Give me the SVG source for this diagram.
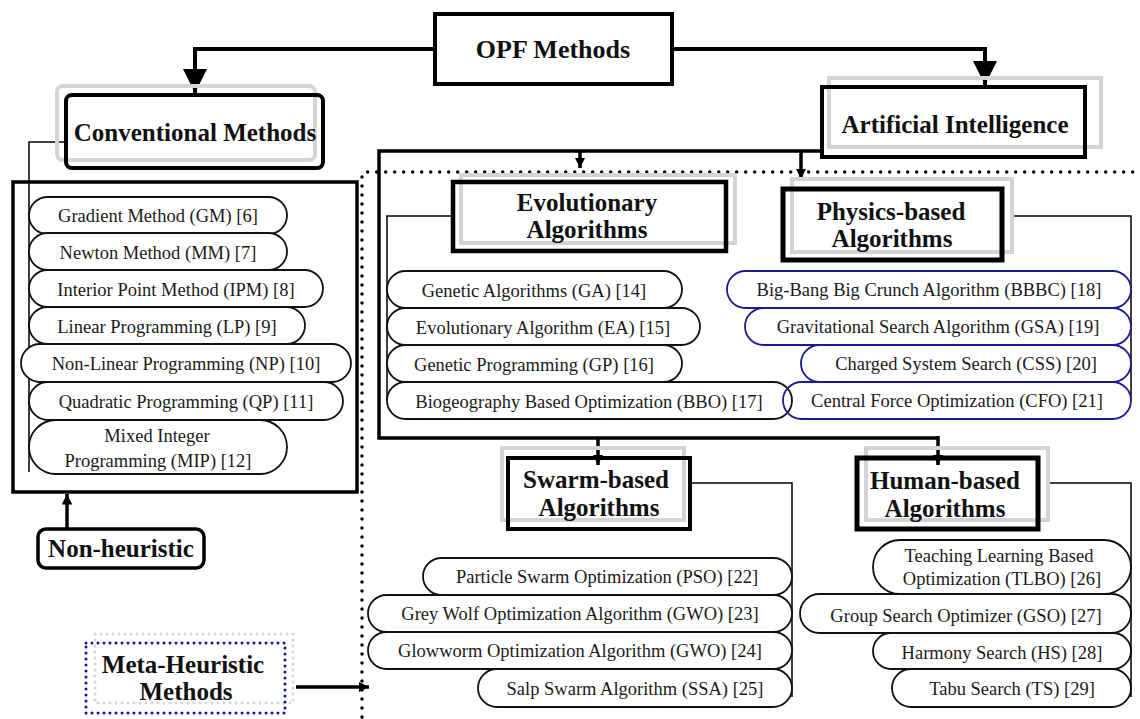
<svg xmlns="http://www.w3.org/2000/svg" width="1140" height="719" viewBox="0 0 1140 719">
<style>
.bg{fill:#fff}
.hd{font-family:"Liberation Serif","Times New Roman",serif;font-weight:bold;font-size:25px;fill:#111;text-anchor:middle}
.tx{font-family:"Liberation Serif","Times New Roman",serif;font-size:18.5px;fill:#1a1a1a;text-anchor:middle}
.box{fill:none;stroke:#000;stroke-width:4.5}
.sh{fill:none;stroke:#d4d4d4;stroke-width:4}
.pill{fill:#fff;stroke:#111;stroke-width:1.8}
.bpill{fill:#fff;stroke:#1c1c8f;stroke-width:1.8}
.thick{fill:none;stroke:#000;stroke-width:4}
.mid{fill:none;stroke:#000;stroke-width:3.5}
.thin{fill:none;stroke:#000;stroke-width:1.5}
.dots{fill:none;stroke:#000;stroke-width:3.5;stroke-linecap:round;stroke-dasharray:0 9}
</style>
<defs>
<marker id="big" viewBox="0 0 10 10" refX="10" refY="5" markerWidth="6" markerHeight="6" markerUnits="strokeWidth" orient="auto"><path d="M0,0 L10,5 L0,10 z" fill="#000"/></marker>
<marker id="sm" viewBox="0 0 10 10" refX="10" refY="5" markerWidth="3" markerHeight="3" markerUnits="strokeWidth" orient="auto"><path d="M0,0 L10,5 L0,10 z" fill="#000"/></marker>
</defs>
<rect class="bg" x="0" y="0" width="1140" height="719"/>

<g id="meta-region">
<path class="dots" d="M362,717 V176 Q362,172 366,172 H1140"/>
</g>

<g id="connectors">
<path class="thick" d="M435,49 H195 V93" marker-end="url(#big)"/>
<path class="thick" d="M672,49 H985 V85" marker-end="url(#big)"/>
<path class="thin" d="M66,142 H29 V472"/>
<path class="mid" d="M67,529 V494" marker-end="url(#sm)"/>
<path class="mid" d="M296,687 H369" marker-end="url(#sm)"/>
<path class="mid" d="M822,151 H379 V438 H938"/>
<path class="mid" d="M580,151 V168" marker-end="url(#sm)"/>
<path class="mid" d="M801,151 V179" marker-end="url(#sm)"/>
<path class="mid" d="M598,438 V465" marker-end="url(#sm)"/>
<path class="mid" d="M938,436 V465" marker-end="url(#sm)"/>
<path class="thin" d="M453,216 H387 V400"/>
<path class="thin" d="M1012,216 H1131 V400"/>
<path class="thin" d="M690,483 H792 V697"/>
<path class="thin" d="M1048,483 H1131 V697"/>
</g>

<g id="opf">
<rect class="box" x="435" y="14" width="237" height="70" style="stroke-width:4"/>
<text class="hd" x="553" y="58" style="font-size:26px">OPF Methods</text>
</g>

<g id="conventional">
<rect class="sh" x="57" y="86" width="258" height="74" rx="6"/>
<rect class="box" x="66" y="95" width="257" height="73" rx="6" style="stroke-width:4"/>
<text class="hd" x="195" y="141">Conventional Methods</text>
</g>

<g id="ai">
<rect class="sh" x="829" y="78" width="272" height="69"/>
<rect class="box" x="822" y="87" width="263" height="70" style="stroke-width:4"/>
<text class="hd" x="955" y="133">Artificial Intelligence</text>
</g>

<g id="nonheuristic-list">
<rect class="mid" x="13" y="182" width="344" height="310"/>
<rect class="pill" x="29" y="197" width="258" height="37" rx="18.5"/>
<text class="tx" x="158" y="222">Gradient Method (GM) [6]</text>
<rect class="pill" x="29" y="233" width="258" height="37" rx="18.5"/>
<text class="tx" x="158" y="259">Newton Method (MM) [7]</text>
<rect class="pill" x="29" y="270" width="294" height="37" rx="18.5"/>
<text class="tx" x="176" y="296">Interior Point Method (IPM) [8]</text>
<rect class="pill" x="29" y="307" width="276" height="37" rx="18.5"/>
<text class="tx" x="167" y="333">Linear Programming (LP) [9]</text>
<rect class="pill" x="21" y="344" width="330" height="38" rx="19"/>
<text class="tx" x="186" y="370">Non-Linear Programming (NP) [10]</text>
<rect class="pill" x="29" y="382" width="314" height="38" rx="19"/>
<text class="tx" x="186" y="408">Quadratic Programming (QP) [11]</text>
<rect class="pill" x="29" y="420" width="258" height="54" rx="27"/>
<text class="tx" x="157" y="442">Mixed Integer</text>
<text class="tx" x="158" y="467">Programming (MIP) [12]</text>
</g>

<g id="nonheuristic">
<rect class="mid" x="38" y="529" width="166" height="39" rx="8"/>
<text class="hd" x="121" y="557">Non-heuristic</text>
</g>

<g id="metaheuristic">
<rect x="95" y="634" width="198" height="69" fill="none" stroke="#d6d6d6" stroke-width="3" stroke-linecap="round" stroke-dasharray="0 6"/>
<rect x="86" y="643" width="199" height="70" fill="none" stroke="#1414a0" stroke-width="3" stroke-linecap="round" stroke-dasharray="0 6"/>
<text class="hd" x="183" y="673">Meta-Heuristic</text>
<text class="hd" x="186" y="700">Methods</text>
</g>

<g id="evolutionary">
<rect class="sh" x="461" y="175" width="274" height="68"/>
<rect class="box" x="453" y="182" width="273" height="69"/>
<text class="hd" x="587" y="211">Evolutionary</text>
<text class="hd" x="587" y="238">Algorithms</text>
<rect class="pill" x="387" y="271" width="295" height="37" rx="18.5"/>
<text class="tx" x="534" y="297">Genetic Algorithms (GA) [14]</text>
<rect class="pill" x="387" y="308" width="313" height="37" rx="18.5"/>
<text class="tx" x="543" y="334">Evolutionary Algorithm (EA) [15]</text>
<rect class="pill" x="387" y="345" width="295" height="37" rx="18.5"/>
<text class="tx" x="534" y="371">Genetic Programming (GP) [16]</text>
<rect class="pill" x="387" y="382" width="405" height="37" rx="18.5"/>
<text class="tx" x="589" y="408">Biogeography Based Optimization (BBO) [17]</text>
</g>

<g id="physics">
<rect class="sh" x="792" y="179" width="220" height="73"/>
<rect class="box" x="783" y="189" width="219" height="71" style="stroke-width:5"/>
<text class="hd" x="891" y="220">Physics-based</text>
<text class="hd" x="892" y="247">Algorithms</text>
<rect class="bpill" x="727" y="271" width="404" height="37" rx="18.5"/>
<text class="tx" x="929" y="296">Big-Bang Big Crunch Algorithm (BBBC) [18]</text>
<rect class="bpill" x="745" y="308" width="386" height="37" rx="18.5"/>
<text class="tx" x="938" y="333">Gravitational Search Algorithm (GSA) [19]</text>
<rect class="bpill" x="801" y="345" width="330" height="37" rx="18.5"/>
<text class="tx" x="966" y="370">Charged System Search (CSS) [20]</text>
<rect class="bpill" x="783" y="382" width="348" height="37" rx="18.5" style="fill:none"/>
<text class="tx" x="957" y="407">Central Force Optimization (CFO) [21]</text>
</g>

<g id="swarm">
<rect class="sh" x="502" y="448" width="182" height="72"/>
<rect class="box" x="508" y="458" width="182" height="71" style="stroke-width:4"/>
<text class="hd" x="596" y="488">Swarm-based</text>
<text class="hd" x="599" y="516">Algorithms</text>
<rect class="pill" x="423" y="558" width="369" height="37" rx="18.5"/>
<text class="tx" x="607" y="583">Particle Swarm Optimization (PSO) [22]</text>
<rect class="pill" x="368" y="595" width="424" height="37" rx="18.5"/>
<text class="tx" x="580" y="620">Grey Wolf Optimization Algorithm (GWO) [23]</text>
<rect class="pill" x="368" y="632" width="424" height="37" rx="18.5"/>
<text class="tx" x="580" y="657">Glowworm Optimization Algorithm (GWO) [24]</text>
<rect class="pill" x="478" y="669" width="314" height="38" rx="19"/>
<text class="tx" x="635" y="695">Salp Swarm Algorithm (SSA) [25]</text>
</g>

<g id="human">
<rect class="sh" x="866" y="448" width="182" height="72"/>
<rect class="box" x="857" y="458" width="181" height="71" style="stroke-width:5"/>
<text class="hd" x="945" y="489">Human-based</text>
<text class="hd" x="945" y="517">Algorithms</text>
<rect class="pill" x="873" y="540" width="258" height="54" rx="27"/>
<text class="tx" x="999" y="562">Teaching Learning Based</text>
<text class="tx" x="1002" y="585">Optimization (TLBO) [26]</text>
<rect class="pill" x="800" y="594" width="331" height="39" rx="19.5"/>
<text class="tx" x="966" y="622">Group Search Optimizer (GSO) [27]</text>
<rect class="pill" x="873" y="633" width="258" height="36" rx="18"/>
<text class="tx" x="1002" y="659">Harmony Search (HS) [28]</text>
<rect class="pill" x="892" y="669" width="239" height="38" rx="19"/>
<text class="tx" x="1012" y="695">Tabu Search (TS) [29]</text>
</g>
</svg>
